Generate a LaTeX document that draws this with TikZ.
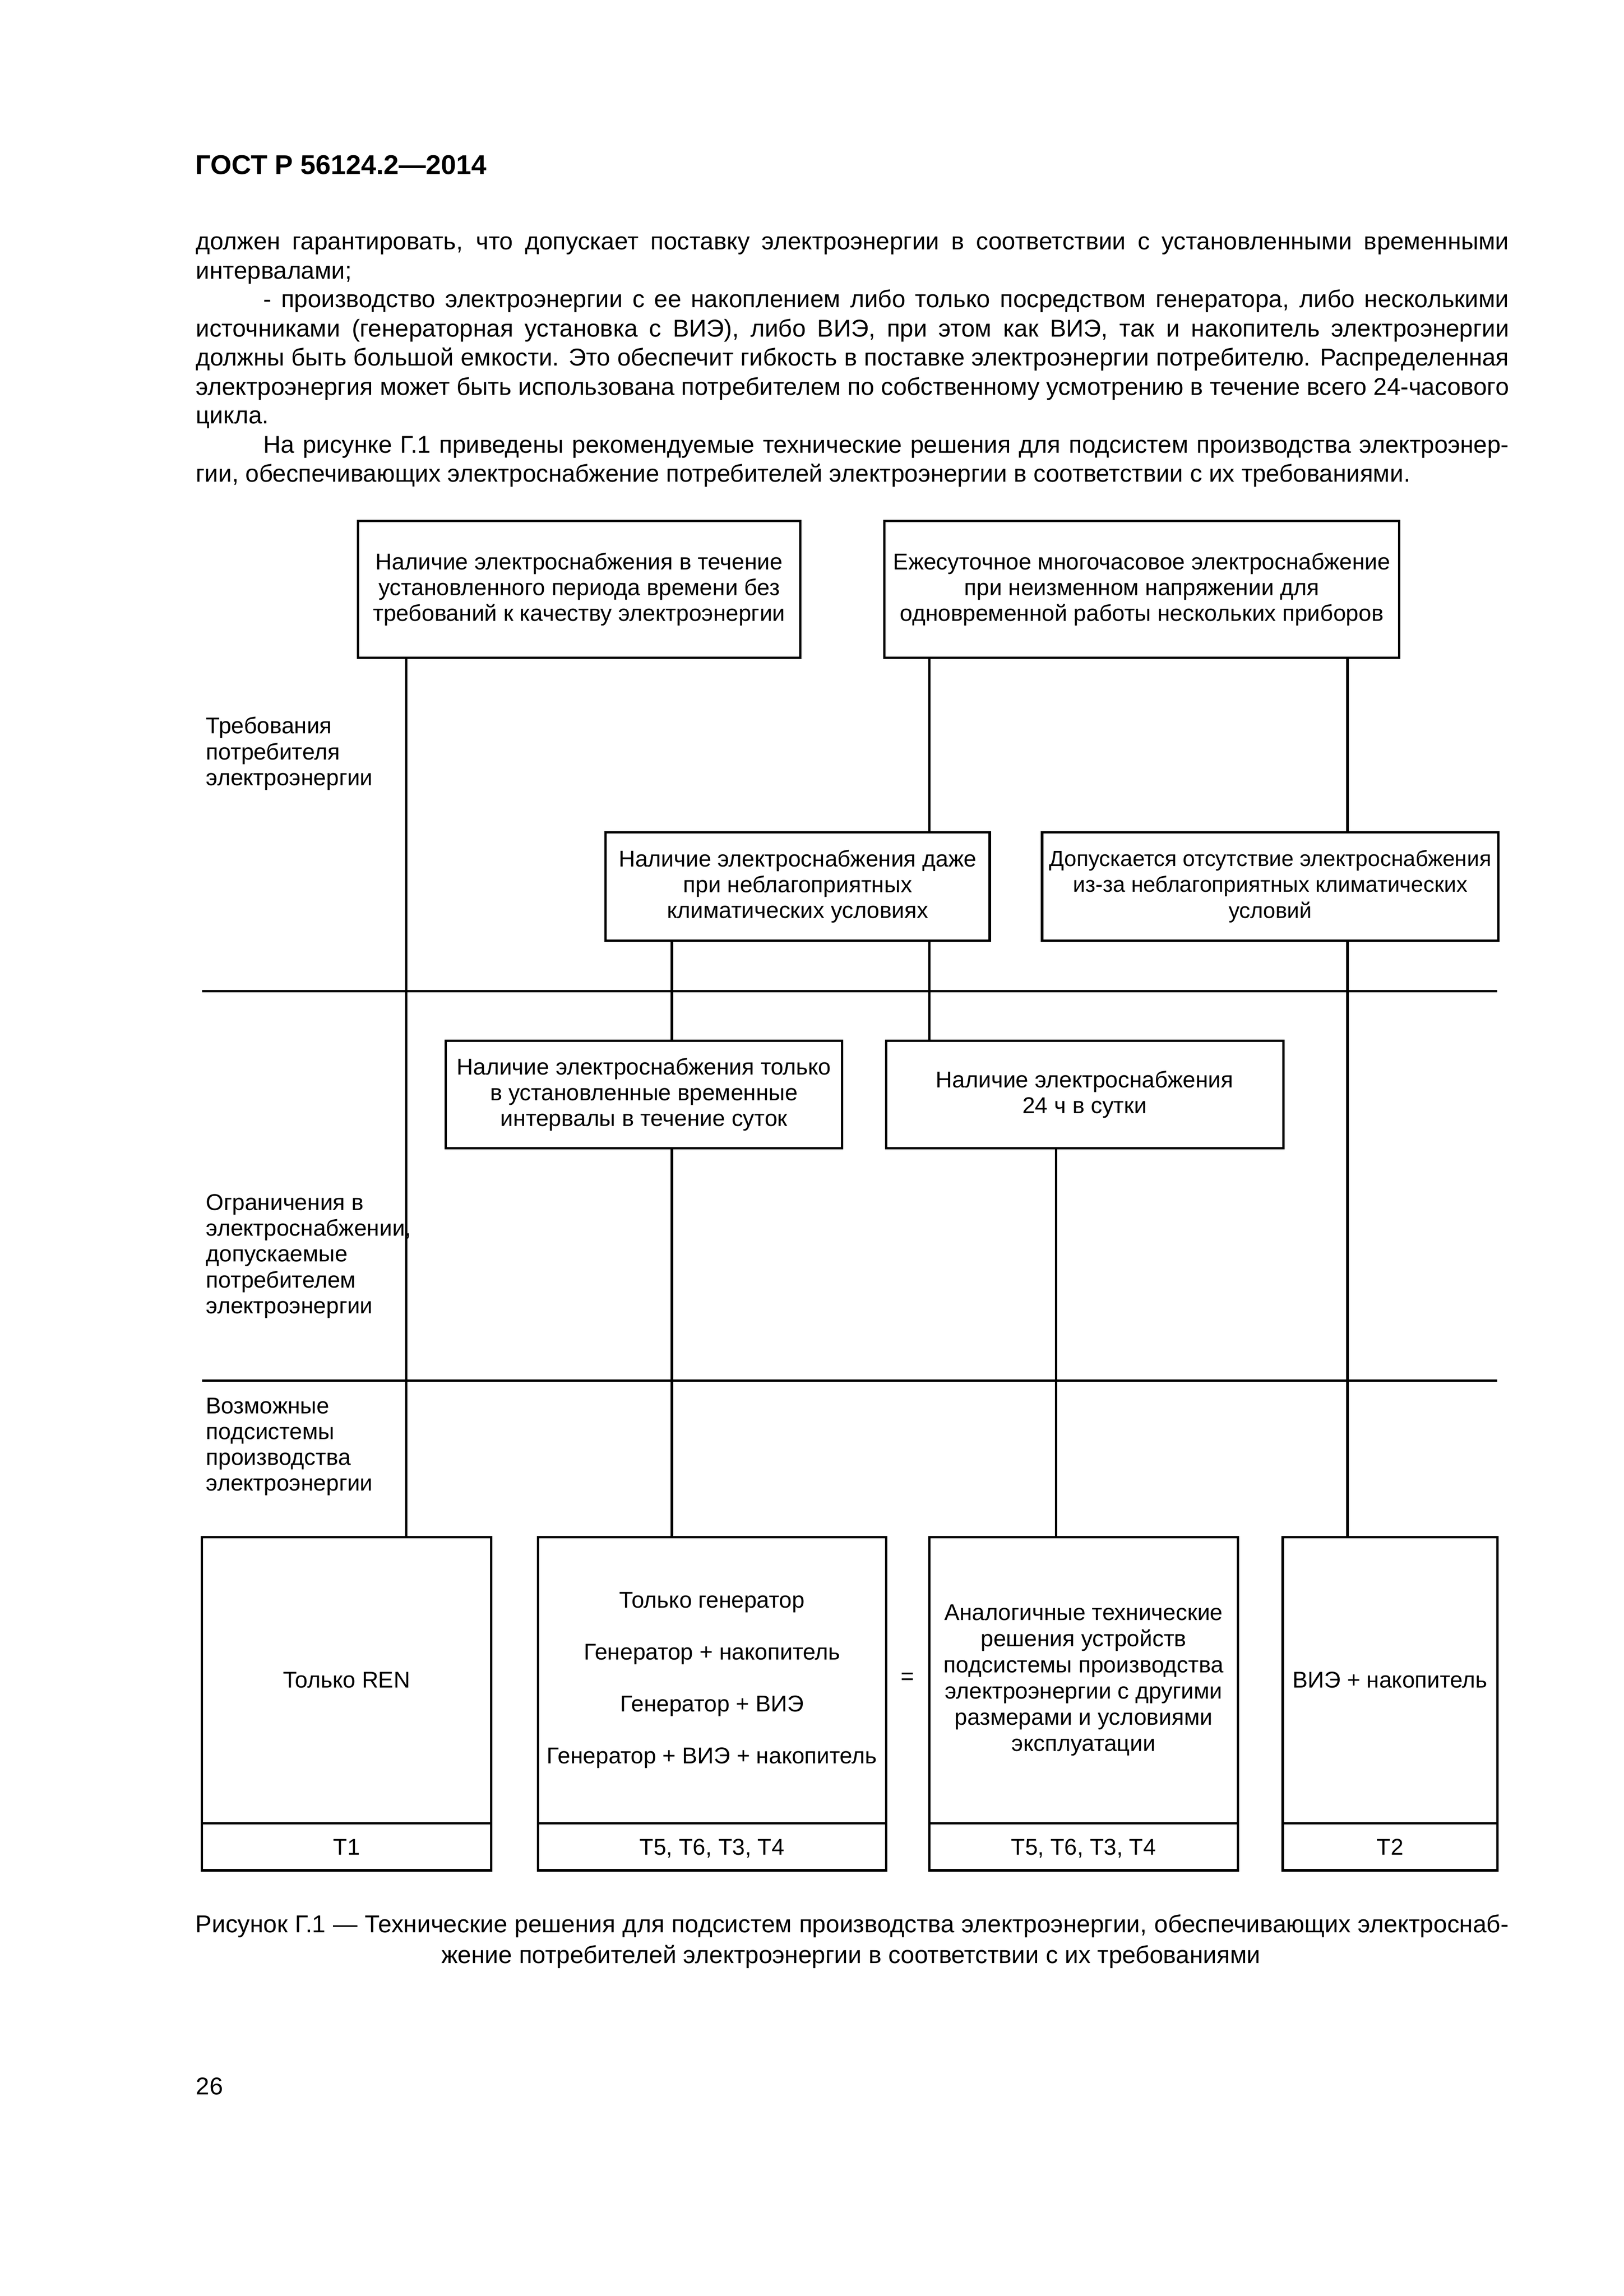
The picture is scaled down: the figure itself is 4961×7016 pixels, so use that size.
\documentclass[tikz,border=0pt]{standalone}
\usepackage{fontspec}
\setmainfont{Liberation Sans}
\def\u{0.0423302mm}
\newcommand{\leftlines}[1]{\vtop{\halign{##\hfil\cr#1\crcr}}}
\tikzset{
  box/.style={draw, line width=0.9pt, inner sep=0pt, align=center, font=\fontsize{8.4}{9.5}\selectfont},
  cellbox/.style={box, text height=6pt, text depth=0pt},
  conn/.style={line width=0.9pt},
  rulel/.style={line width=0.9pt},
  bodyline/.style={anchor=base west, inner sep=0pt, font=\fontsize{8.95}{10.8}\selectfont},
  sidelabel/.style={anchor=base west, inner sep=0pt, font=\fontsize{8.4}{9.5}\selectfont},
}
\begin{document}
\begin{tikzpicture}[x=0.0423302mm, y=-0.0423302mm]
\path[fill=white, use as bounding box] (0,0) rectangle (4961,7016);

% header
\node[anchor=base west, inner sep=0pt, font=\fontsize{10}{12}\selectfont\bfseries] (hdr) at (596,533) {ГОСТ Р 56124.2—2014};

% body text
\node[bodyline] (t1) at (597,763) {\makebox[169.79mm][s]{должен гарантировать, что допускает поставку электроэнергии в соответствии с установленными временными}};
\node[bodyline] (t2) at (597,852) {интервалами;};
\node[bodyline] (t3) at (803,940) {\makebox[161.07mm][s]{- производство электроэнергии с ее накоплением либо только посредством генератора, либо несколькими}};
\node[bodyline] (t4) at (597,1029) {\makebox[169.79mm][s]{источниками (генераторная установка с ВИЭ), либо ВИЭ, при этом как ВИЭ, так и накопитель электроэнергии}};
\node[bodyline] (t5) at (597,1118) {\makebox[169.79mm][s]{должны быть большой емкости. Это обеспечит гибкость в поставке электроэнергии потребителю. Распределенная}};
\node[bodyline] (t6) at (597,1207) {\makebox[169.79mm][s]{электроэнергия может быть использована потребителем по собственному усмотрению в течение всего 24-часового}};
\node[bodyline] (t7) at (597,1295) {цикла.};
\node[bodyline] (t8) at (803,1384) {\makebox[161.07mm][s]{На рисунке Г.1 приведены рекомендуемые технические решения для подсистем производства электроэнер-}};
\node[bodyline] (t9) at (597,1473) {гии, обеспечивающих электроснабжение потребителей электроэнергии в соответствии с их требованиями.};

% upper boxes
\node[box, minimum width={1351*\u}, minimum height={418*\u}] (A) at (1769.5,1801) {Наличие электроснабжения в течение\\установленного периода времени без\\требований к качеству электроэнергии};
\node[box, minimum width={1573*\u}, minimum height={418*\u}] (B) at (3488.5,1801) {Ежесуточное многочасовое электроснабжение\\при неизменном напряжении для\\одновременной работы нескольких приборов};
\node[box, minimum width={1174*\u}, minimum height={331*\u}] (C) at (2437,2708.5) {Наличие электроснабжения даже\\при неблагоприятных\\климатических условиях};
\node[box, minimum width={1394*\u}, minimum height={331*\u}, font=\fontsize{8.1}{9.5}\selectfont] (D) at (3881,2708.5) {Допускается отсутствие электроснабжения\\из-за неблагоприятных климатических\\условий};
\node[box, minimum width={1211*\u}, minimum height={329*\u}] (E) at (1967.5,3344.5) {Наличие электроснабжения только\\в установленные временные\\интервалы в течение суток};
\node[box, minimum width={1214*\u}, minimum height={329*\u}] (F) at (3314,3344.5) {Наличие электроснабжения\\24 ч в сутки};

% side labels
\node[sidelabel] (L1) at (628,2242) {\leftlines{Требования\cr потребителя\cr электроэнергии}};
\node[sidelabel] (L2) at (628,3698) {\leftlines{Ограничения в\cr электроснабжении,\cr допускаемые\cr потребителем\cr электроэнергии}};
\node[sidelabel] (L3) at (628,4319) {\leftlines{Возможные\cr подсистемы\cr производства\cr электроэнергии}};

% separator rules
\coordinate (R1a) at (617,3029); \coordinate (R1b) at (4575,3029);
\coordinate (R2a) at (617,4219); \coordinate (R2b) at (4575,4219);
\draw[rulel] (R1a) -- (R1b);
\draw[rulel] (R2a) -- (R2b);

% bottom boxes
\node[box, minimum width={884*\u}, minimum height={874*\u}] (G) at (1059,5134) {Только REN};
\node[box, minimum width={1063*\u}, minimum height={874*\u}, font=\fontsize{8.4}{19.1}\selectfont] (H) at (2175.5,5134) {Только генератор\\Генератор + накопитель\\Генератор + ВИЭ\\Генератор + ВИЭ + накопитель};
\node[box, minimum width={943*\u}, minimum height={874*\u}, font=\fontsize{8.4}{9.65}\selectfont] (I) at (3310.5,5134) {Аналогичные технические\\решения устройств\\подсистемы производства\\электроэнергии с другими\\размерами и условиями\\эксплуатации};
\node[box, minimum width={656*\u}, minimum height={874*\u}] (J) at (4247,5134) {ВИЭ + накопитель};

\node[cellbox, minimum width={884*\u}, minimum height={144*\u}] (G2) at (1059,5643) {T1};
\node[cellbox, minimum width={1063*\u}, minimum height={144*\u}] (H2) at (2175.5,5643) {T5, T6, T3, T4};
\node[cellbox, minimum width={943*\u}, minimum height={144*\u}] (I2) at (3310.5,5643) {T5, T6, T3, T4};
\node[cellbox, minimum width={656*\u}, minimum height={144*\u}] (J2) at (4247,5643) {T2};

\node[inner sep=0pt, font=\fontsize{8.4}{9.5}\selectfont] (eq) at (2773,5129) {=};

% connectors
\coordinate (X1) at (1241,0);
\coordinate (X2) at (2839,0);
\coordinate (X3) at (4117,0);
\coordinate (X4) at (2053,0);
\coordinate (X5) at (3227,0);
\draw[conn] (A.south -| X1) -- (G.north -| X1);
\draw[conn] (B.south -| X2) -- (C.north -| X2);
\draw[conn] (C.south -| X2) -- (F.north -| X2);
\draw[conn] (B.south -| X3) -- (D.north -| X3);
\draw[conn] (D.south -| X3) -- (J.north -| X3);
\draw[conn] (C.south -| X4) -- (E.north -| X4);
\draw[conn] (E.south -| X4) -- (H.north -| X4);
\draw[conn] (F.south -| X5) -- (I.north -| X5);

% caption
\node[bodyline, font=\fontsize{9.0}{11}\selectfont] (cap1) at (596,5905) {\makebox[169.79mm][s]{Рисунок Г.1 — Технические решения для подсистем производства электроэнергии, обеспечивающих электроснаб-}};
\node[anchor=base, inner sep=0pt, font=\fontsize{9.0}{11}\selectfont] (cap2) at (2600,5999) {жение потребителей электроэнергии в соответствии с их требованиями};

% page number
\node[bodyline] (pn) at (597,6400) {26};
\end{tikzpicture}
\end{document}
